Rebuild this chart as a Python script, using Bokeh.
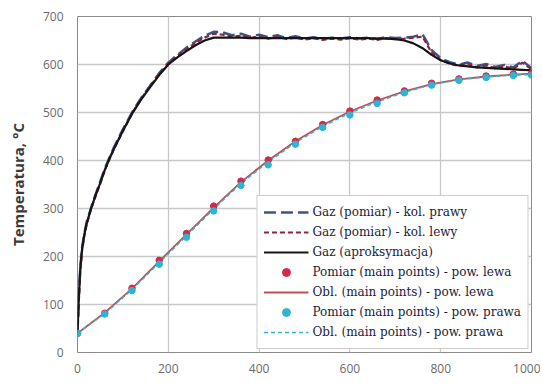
from bokeh.plotting import figure
from bokeh.models import Range1d, Legend, LegendItem, FixedTicker
from bokeh.embed import file_html
from bokeh.resources import INLINE

# ---- data ----
gas_t = [0, 3, 6, 10, 15, 20, 30, 40, 50, 60, 70, 80, 100, 120, 140, 160, 180, 200,
         220, 240, 260, 280, 300, 320, 340, 360, 380, 400, 420, 440, 460, 480, 500,
         520, 540, 560, 580, 600, 620, 640, 660, 680, 700, 720, 740, 760, 780, 800,
         820, 840, 860, 880, 900, 920, 940, 960, 980, 1000]

gas_approx = [40, 115, 172, 215, 245, 268, 300, 328, 353, 380, 403, 424, 462, 497, 527, 553, 578, 600,
              615, 628, 640, 650, 656, 656, 656, 656, 655, 655, 655, 655, 655, 655, 655,
              655, 655, 655, 655, 655, 655, 655, 654, 654, 653, 650, 644, 634, 620, 609,
              602, 598, 596, 594, 593, 592, 591, 590, 589, 588]

gas_right = [40, 118, 176, 218, 248, 271, 302, 330, 356, 383, 405, 427, 465, 500, 530, 556, 582, 604,
             620, 635, 648, 660, 668, 667, 661, 664, 658, 662, 657, 661, 655, 659, 654,
             657, 653, 656, 654, 657, 654, 656, 653, 657, 655, 656, 658, 663, 630, 613,
             605, 600, 604, 597, 601, 595, 599, 594, 608, 592]

gas_left = [40, 110, 168, 212, 243, 266, 299, 326, 352, 379, 402, 423, 461, 498, 528, 555, 580, 602,
            618, 632, 645, 656, 664, 662, 658, 660, 655, 659, 654, 658, 653, 656, 652,
            655, 651, 654, 652, 655, 652, 654, 651, 655, 653, 654, 656, 658, 625, 609,
            602, 597, 601, 594, 598, 592, 596, 591, 604, 590]

pts_t = [0, 60, 120, 180, 240, 300, 360, 420, 480, 540, 600, 660, 720, 780, 840, 900, 960, 1000]
meas_left = [40, 82, 134, 192, 248, 305, 357, 401, 440, 475, 503, 526, 545, 561, 570, 576, 580, 581]
meas_right = [40, 80, 129, 184, 240, 295, 348, 391, 434, 469, 495, 519, 541, 557, 567, 573, 577, 578]
calc_left = [40, 83, 133, 190, 246, 302, 355, 400, 440, 474, 502, 525, 544, 559, 569, 575, 579, 581]
calc_right = [40, 81, 131, 187, 243, 299, 352, 397, 437, 471, 499, 522, 542, 558, 568, 574, 578, 579]

x_ticks = [0, 200, 400, 600, 800, 1000]
y_ticks = [0, 100, 200, 300, 400, 500, 600, 700]

labels = ["Gaz (pomiar) - kol. prawy",
          "Gaz (pomiar) - kol. lewy",
          "Gaz (aproksymacja)",
          "Pomiar (main points) - pow. lewa",
          "Obl. (main points) - pow. lewa",
          "Pomiar (main points) - pow. prawa",
          "Obl. (main points) - pow. prawa"]

# ---- figure ----
p = figure(frame_width=454, frame_height=336, output_backend="svg", toolbar_location=None,
           x_range=Range1d(0, 1000), y_range=Range1d(0, 700),
           min_border_left=77, min_border_right=9, min_border_top=16, min_border_bottom=28)
p.background_fill_color = "white"
p.border_fill_color = "white"
p.outline_line_color = "#8a8a8a"
p.outline_line_width = 1

p.xaxis.ticker = FixedTicker(ticks=x_ticks)
p.yaxis.ticker = FixedTicker(ticks=y_ticks)
for ax in (p.xaxis[0], p.yaxis[0]):
    ax.axis_line_color = None
    ax.major_tick_line_color = None
    ax.minor_tick_line_color = None
    ax.major_tick_out = 0
    ax.major_tick_in = 0
    ax.minor_tick_out = 0
    ax.major_label_text_font = "Open Sans"
    ax.major_label_text_font_size = "12px"
    ax.major_label_text_color = "#6a6a6a"
p.xaxis.major_label_standoff = 11
p.yaxis.major_label_standoff = 14
p.yaxis.axis_label = "Temperatura, °C"
p.yaxis.axis_label_text_font = "Open Sans"
p.yaxis.axis_label_text_font_style = "bold"
p.yaxis.axis_label_text_font_size = "15px"
p.yaxis.axis_label_text_color = "#3a3a3a"
p.yaxis.axis_label_standoff = 12

p.xgrid.ticker = FixedTicker(ticks=x_ticks)
p.ygrid.ticker = FixedTicker(ticks=y_ticks)
p.grid.grid_line_color = "#c8c8c8"
p.grid.grid_line_width = 1.3

navy = "#3d5584"
darkred = "#8e2438"
red = "#d42a4a"
redline = "#c0504d"
cyan = "#2fb4d2"

r1 = p.line(gas_t, gas_right, line_color=navy, line_width=2.5, line_dash="12 5")
r2 = p.line(gas_t, gas_left, line_color=darkred, line_width=2.2, line_dash="5 3")
r3 = p.line(gas_t, gas_approx, line_color="#151515", line_width=2.2)
r5 = p.line(pts_t, calc_left, line_color=redline, line_width=1.8)
r7 = p.line(pts_t, calc_right, line_color=cyan, line_width=1.5, line_dash="4 3")
r4 = p.scatter(pts_t, meas_left, size=6.5, fill_color=red, line_color=red)
r6 = p.scatter(pts_t, meas_right, size=6.5, fill_color=cyan, line_color=cyan)

items = [LegendItem(label=l, renderers=[r]) for l, r in zip(labels, [r1, r2, r3, r4, r5, r6, r7])]
legend = Legend(items=items, location="bottom_right")
legend.margin = 3
legend.padding = 6
legend.spacing = 0
legend.glyph_width = 45
legend.glyph_height = 20
legend.label_height = 20
legend.label_standoff = 4
legend.label_text_font = "DejaVu Serif"
legend.label_text_font_size = "12px"
legend.label_text_color = "#1c1c3a"
legend.border_line_color = "#9a9a9a"
legend.border_line_width = 1
legend.background_fill_color = "white"
legend.background_fill_alpha = 1
p.add_layout(legend, "center")

open("out.html", "w").write(file_html(p, INLINE))
